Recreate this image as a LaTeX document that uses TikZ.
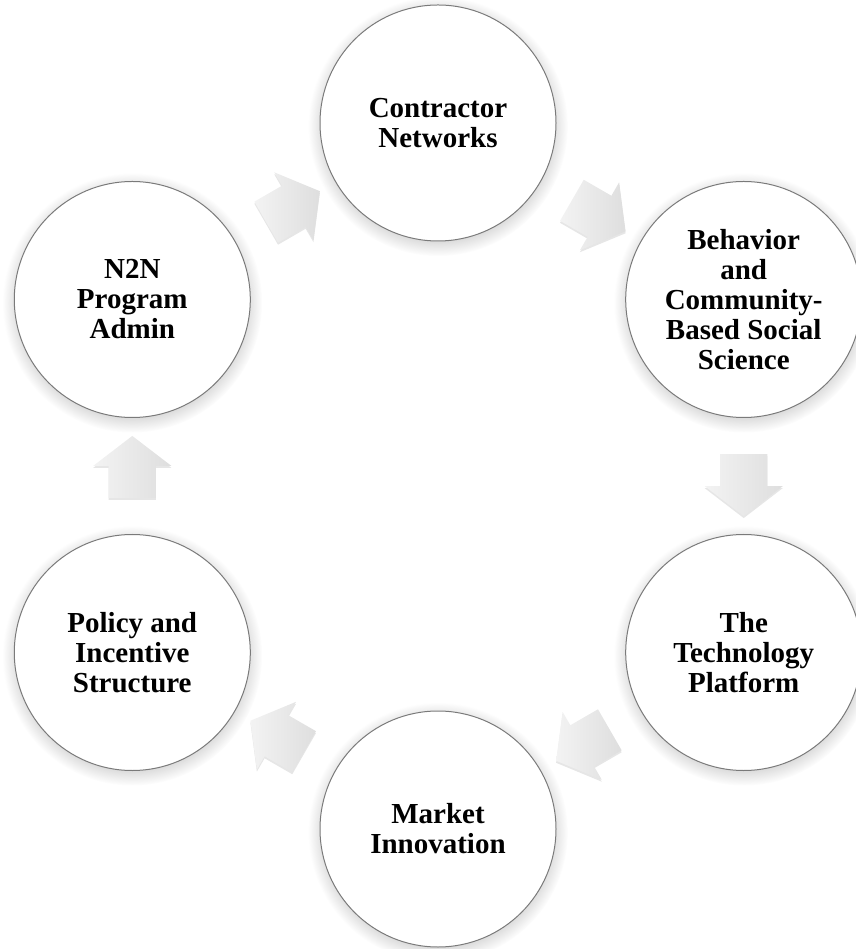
\documentclass[tikz,border=0pt]{standalone}
\usepackage{fontspec}
\setmainfont{Liberation Serif}
\usepackage{tikz}
\usetikzlibrary{calc}
\usetikzlibrary{shapes.arrows}
\usetikzlibrary{shadows}
\definecolor{ringcolor}{HTML}{7A7A7A}
\definecolor{arrowlight}{HTML}{F3F3F3}
\definecolor{arrowdark}{HTML}{DEDEDE}

\begin{document}
\begin{tikzpicture}[x=1pt,y=1pt,
  stage/.style={circle, draw=ringcolor, line width=1pt, fill=white,
    minimum size=236pt, inner sep=0pt, align=center,
    font=\fontsize{29}{30}\selectfont\bfseries,
    circular drop shadow={shadow xshift=0pt, shadow yshift=-3pt, opacity=0.35}},
  flowarrow/.style={single arrow, minimum height=62pt, inner xsep=0pt,
    inner ysep=23.5pt, single arrow head extend=15.5pt,
    single arrow tip angle=105, left color=arrowlight, right color=arrowdark,
    drop shadow={shadow xshift=0pt, shadow yshift=-2pt, opacity=0.2}}]
\useasboundingbox (-438,-473) rectangle (417,476);

\node[stage] (cn) at (90:353)  {Contractor\\Networks};
\node[stage] (bc) at (30:353)  {Behavior\\and\\Community-\\Based Social\\Science};
\node[stage] (tp) at (-30:353) {The\\Technology\\Platform};
\node[stage] (mi) at (-90:353) {Market\\Innovation};
\node[stage] (pi) at (210:353) {Policy and\\Incentive\\Structure};
\node[stage] (pa) at (150:353) {N2N\\Program\\Admin};

%% block arrows halfway between neighbours
\foreach \a/\b/\ang [count=\i] in {cn/bc/-30, bc/tp/-90, tp/mi/210, mi/pi/150, pi/pa/90, pa/cn/30}
    \node[flowarrow, rotate=\ang] (step\i) at ($(\a)!0.5!(\b)$) {};
\end{tikzpicture}
\end{document}
